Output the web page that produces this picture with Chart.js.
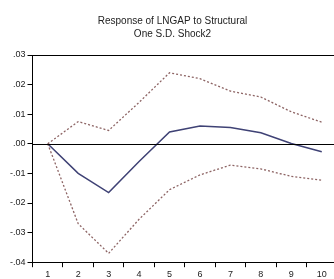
<!DOCTYPE html>
<html>
<head>
<meta charset="utf-8">
<script src="https://cdn.jsdelivr.net/npm/chart.js@4.4.0/dist/chart.umd.min.js"></script>
<style>
  body { margin: 0; background: #fff; }
  #wrap { width: 334px; height: 279px; overflow: hidden; position: relative; }
  canvas { position: absolute; left: 0; top: 0; }
</style>
</head>
<body>
<div id="wrap"><canvas id="myChart" width="340" height="282"></canvas></div>
<script>
let periods = ['1', '2', '3', '4', '5', '6', '7', '8', '9', '10'];
let response = [0, -0.010, -0.0165, -0.006, 0.004, 0.006, 0.0055, 0.0037, 0.0001, -0.0027];
let upperBand = [0, 0.0075, 0.0045, 0.014, 0.024, 0.022, 0.0178, 0.0158, 0.0108, 0.0073];
let lowerBand = [0, -0.027, -0.037, -0.0255, -0.0155, -0.0105, -0.0072, -0.0085, -0.011, -0.0123];
let titleLines = ['Response of LNGAP to Structural', 'One S.D. Shock2'];

let frameLines = {
  id: 'frameLines',
  afterDatasetsDraw(chart) {
    let ctx = chart.ctx;
    let area = chart.chartArea;
    let y0 = chart.scales.y.getPixelForValue(0);
    ctx.save();
    ctx.strokeStyle = '#000';
    ctx.lineWidth = 1;
    ctx.beginPath();
    ctx.moveTo(area.left, Math.round(y0) + 0.5);
    ctx.lineTo(area.right, Math.round(y0) + 0.5);
    ctx.moveTo(area.left, Math.round(area.top) + 0.5);
    ctx.lineTo(area.right, Math.round(area.top) + 0.5);
    ctx.stroke();
    ctx.restore();
  }
};

let data = {
  labels: periods,
  datasets: [
    {
      data: upperBand,
      borderColor: '#8d6464',
      borderWidth: 1.3,
      borderDash: [2, 2],
      pointRadius: 0,
      tension: 0
    },
    {
      data: lowerBand,
      borderColor: '#8d6464',
      borderWidth: 1.3,
      borderDash: [2, 2],
      pointRadius: 0,
      tension: 0
    },
    {
      data: response,
      borderColor: '#3f4275',
      borderWidth: 1.5,
      pointRadius: 0,
      tension: 0
    }
  ]
};

let config = {
  type: 'line',
  data: data,
  options: {
    responsive: false,
    devicePixelRatio: 1,
    animation: false,
    layout: { padding: { left: 8, right: 3, top: 0, bottom: 0 } },
    plugins: {
      legend: { display: false },
      tooltip: { enabled: false },
      title: {
        display: true,
        text: titleLines,
        color: '#222',
        font: { family: 'Liberation Sans', size: 10, weight: 'normal', lineHeight: 1.3 },
        padding: { top: 15, bottom: 14 }
      }
    },
    scales: {
      x: {
        offset: true,
        grid: { offset: true, drawOnChartArea: false, tickLength: 5, color: '#000' },
        border: { color: '#000', width: 1 },
        ticks: { color: '#222', font: { family: 'Liberation Sans', size: 9 }, padding: 2, maxRotation: 0 }
      },
      y: {
        min: -0.04,
        max: 0.03,
        grid: { drawOnChartArea: false, tickLength: 5, color: '#000' },
        border: { color: '#000', width: 1 },
        ticks: {
          stepSize: 0.01,
          color: '#222',
          font: { family: 'Liberation Sans', size: 9 },
          padding: 2,
          callback: function (v) {
            let s = Math.abs(v).toFixed(2).replace(/^0/, '');
            return (v < -0.0001 ? '-' : '') + s;
          }
        }
      }
    }
  },
  plugins: [frameLines]
};

let myChart = new Chart(document.getElementById('myChart'), config);
</script>
</body>
</html>
